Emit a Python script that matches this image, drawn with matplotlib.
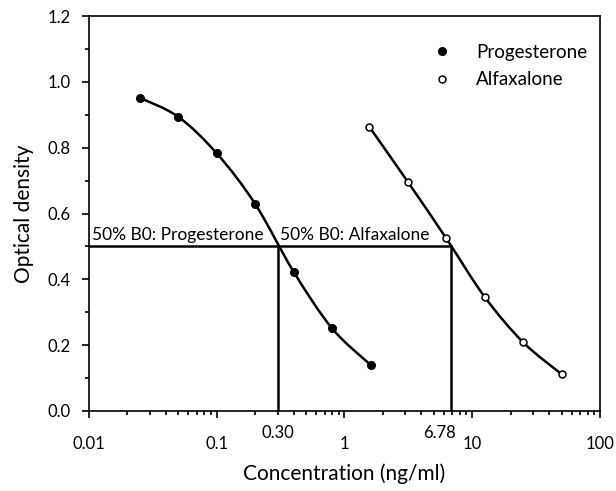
import matplotlib.pyplot as plt
import numpy as np
from matplotlib.path import Path
from matplotlib.patches import PathPatch
from matplotlib.transforms import offset_copy
from matplotlib.ticker import LogLocator, NullFormatter, MultipleLocator, FixedLocator

plt.rcParams['font.family'] = ['Lato', 'DejaVu Sans']

# data
prog_conc = [0.025, 0.05, 0.1, 0.2, 0.4, 0.8, 1.6]
prog_od = [0.952, 0.894, 0.783, 0.629, 0.423, 0.251, 0.140]
alfa_conc = [1.5625, 3.125, 6.25, 12.5, 25, 50]
alfa_od = [0.864, 0.697, 0.525, 0.347, 0.209, 0.112]
b0_half = 0.5
prog_ic50 = 0.30
alfa_ic50 = 6.78


def smooth_path(xs, ys):
    # Catmull-Rom style bezier through the points, done in log-x space
    lx = np.log10(xs)
    ys = np.asarray(ys, float)
    n = len(lx)
    verts = [(xs[0], ys[0])]
    codes = [Path.MOVETO]
    for i in range(n - 1):
        x0, y0 = (lx[i - 1], ys[i - 1]) if i > 0 else (lx[i], ys[i])
        x1, y1 = lx[i], ys[i]
        x2, y2 = lx[i + 1], ys[i + 1]
        x3, y3 = (lx[i + 2], ys[i + 2]) if i + 2 < n else (x2, y2)
        c1 = (x1 + (x2 - x0) / 6, y1 + (y2 - y0) / 6)
        c2 = (x2 - (x3 - x1) / 6, y2 - (y3 - y1) / 6)
        verts += [(10 ** c1[0], c1[1]), (10 ** c2[0], c2[1]), (10 ** x2, y2)]
        codes += [Path.CURVE4] * 3
    return Path(verts, codes)


fig = plt.figure(figsize=(6.16, 4.91), dpi=100)
ax = fig.add_axes([0.1445, 0.163, 0.8295, 0.804])
ax.set_xscale('log')
ax.set_xlim(0.01, 100)
ax.set_ylim(0, 1.2)

for xs, ys in [(prog_conc, prog_od), (alfa_conc, alfa_od)]:
    ax.add_patch(PathPatch(smooth_path(xs, ys), fill=False, lw=1.8, ec='black', zorder=3))

ax.plot(prog_conc, prog_od, 'o', ms=5.5, mfc='black', mec='black', zorder=4, label='Progesterone')
ax.plot(alfa_conc, alfa_od, 'o', ms=5, mfc='white', mec='black', mew=1.1, zorder=4, label='Alfaxalone')

# 50% B0 guide lines
ax.plot([0.01, alfa_ic50], [b0_half, b0_half], color='black', lw=1.8, zorder=2)
ax.plot([prog_ic50, prog_ic50], [0, b0_half], color='black', lw=1.8, zorder=2)
ax.plot([alfa_ic50, alfa_ic50], [0, b0_half], color='black', lw=1.8, zorder=2)

ax.text(0.0105, 0.512, '50% B0: Progesterone', fontsize=12.5, va='bottom', ha='left', zorder=5,
        bbox=dict(fc='white', ec='none', pad=0.3))
ax.text(0.31, 0.512, '50% B0: Alfaxalone', fontsize=12.5, va='bottom', ha='left', zorder=5,
        bbox=dict(fc='white', ec='none', pad=0.3))

xt = ax.get_xaxis_transform()
ax.text(prog_ic50, -0.035, '0.30', transform=xt, ha='center', va='top', fontsize=12)
ax.text(alfa_ic50, -0.035, '6.78', transform=offset_copy(xt, fig=fig, x=-11, units='dots'),
        ha='center', va='top', fontsize=12)

ax.yaxis.set_major_locator(MultipleLocator(0.2))
ax.yaxis.set_minor_locator(MultipleLocator(0.1))
ax.yaxis.set_major_formatter(plt.FuncFormatter(lambda v, p: f'{v:.1f}'))
ax.xaxis.set_major_locator(FixedLocator([0.01, 0.1, 1, 10, 100]))
ax.xaxis.set_major_formatter(plt.FuncFormatter(lambda v, p: f'{v:g}'))
ax.xaxis.set_minor_locator(LogLocator(base=10, subs=np.arange(2, 10)))
ax.xaxis.set_minor_formatter(NullFormatter())
ax.tick_params(axis='both', which='both', direction='out', color='black', width=1.2)
ax.tick_params(axis='both', which='major', length=5, labelsize=12)
ax.tick_params(axis='both', which='minor', length=3)
ax.tick_params(axis='x', which='major', pad=13)
ax.tick_params(axis='y', which='major', pad=8)
for s in ax.spines.values():
    s.set_linewidth(1.2)

ax.set_xlabel('Concentration (ng/ml)', fontsize=15, labelpad=8)
ax.set_ylabel('Optical density', fontsize=15, labelpad=10)

ax.legend(loc='upper right', frameon=False, fontsize=13.5, handletextpad=0.81,
          bbox_to_anchor=(1.008, 0.9726), labelspacing=0.55)

fig.savefig('out.png', dpi=100)
